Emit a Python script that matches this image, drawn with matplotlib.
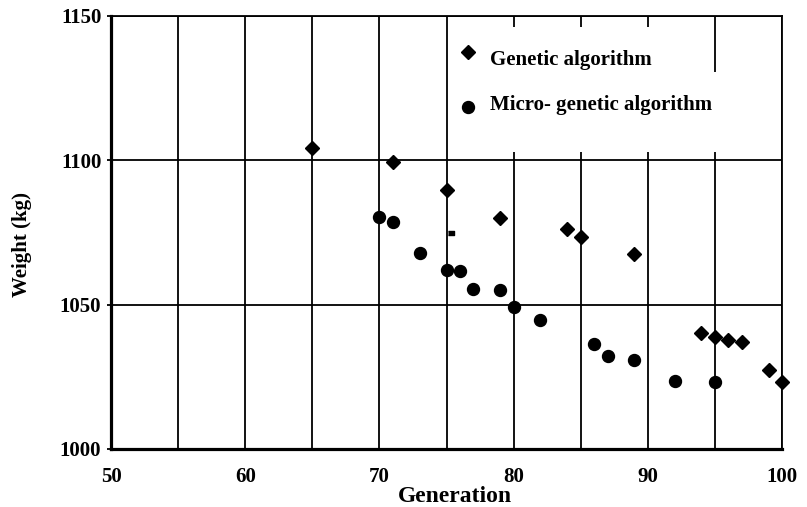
import matplotlib
matplotlib.use("Agg")
import matplotlib.pyplot as plt
from matplotlib.patches import Rectangle

# Genetic algorithm (diamonds)
ga_gen = [65, 71, 75, 79, 84, 85, 89, 94, 95, 96, 97, 99, 100]
ga_weight = [1104.3, 1099.4, 1089.7, 1080.0, 1076.2, 1073.4, 1067.6, 1040.2, 1038.8, 1037.8, 1037.0, 1027.4, 1023.2]

# small stray mark
odd_gen = [75.3]
odd_weight = [1074.8]

# Micro-genetic algorithm (circles)
mga_gen = [70, 71, 73, 75, 76, 77, 79, 80, 82, 86, 87, 89, 92, 95]
mga_weight = [1080.4, 1078.6, 1067.9, 1062.0, 1061.7, 1055.4, 1055.0, 1049.2, 1044.7, 1036.4, 1032.2, 1030.8, 1023.6, 1023.2]

x_ticks = [50, 60, 70, 80, 90, 100]
x_grid = [55, 60, 65, 70, 75, 80, 85, 90, 95, 100]
y_ticks = [1000, 1050, 1100, 1150]

labels = ["Genetic algorithm", "Micro- genetic algorithm"]

plt.rcParams['font.family'] = ['Liberation Serif', 'DejaVu Serif']
plt.rcParams['font.weight'] = 'bold'

fig = plt.figure(figsize=(8.07, 5.07), dpi=100)
ax = fig.add_axes([111/807, 1-449/507, 671/807, 433/507])
ax.set_xlim(50, 100)
ax.set_ylim(1000, 1150)

for g in x_grid:
    ax.axvline(g, color='black', lw=1.3, zorder=1)
for w in y_ticks[1:]:
    ax.axhline(w, color='black', lw=1.3, zorder=1)

ax.set_xticks(x_ticks)
ax.set_yticks(y_ticks)
ax.tick_params(axis='x', length=0, pad=13, labelsize=15)
ax.tick_params(axis='y', length=3, width=1.3, pad=4, labelsize=15)
for lab in ax.get_xticklabels() + ax.get_yticklabels():
    lab.set_fontweight('bold')

for s in ['left', 'bottom']:
    ax.spines[s].set_linewidth(2.3)
for s in ['top', 'right']:
    ax.spines[s].set_linewidth(1.3)
for s in ax.spines.values():
    s.set_zorder(5)

ax.plot(ga_gen, ga_weight, linestyle='none', marker='D', ms=6.8, color='black', zorder=6, clip_on=False)
ax.plot(mga_gen, mga_weight, linestyle='none', marker='o', ms=8.6, color='black', zorder=6, clip_on=False)
ax.plot(odd_gen, odd_weight, linestyle='none',
        marker=[(-1, -0.45), (1, -0.45), (1, 0.45), (-1, 0.45)], ms=5, color='black', zorder=6)

# legend (manual)
ax.add_patch(Rectangle((0.508, 0.686), 0.8957-0.508, 0.9746-0.686, transform=ax.transAxes,
                       facecolor='white', edgecolor='none', zorder=3))
ax.add_patch(Rectangle((0.8957, 0.686), 0.9106-0.8957, 0.8707-0.686, transform=ax.transAxes,
                       facecolor='white', edgecolor='none', zorder=3))
ax.plot([0.532], [0.9169], transform=ax.transAxes, linestyle='none', marker='D', ms=6.8, color='black', zorder=6)
ax.plot([0.532], [0.7898], transform=ax.transAxes, linestyle='none', marker='o', ms=8.6, color='black', zorder=6)
ax.text(0.5648, 0.8868, labels[0], transform=ax.transAxes, fontsize=15, fontweight='bold',
        va='baseline', ha='left', zorder=7)
ax.text(0.5648, 0.7829, labels[1], transform=ax.transAxes, fontsize=15, fontweight='bold',
        va='baseline', ha='left', zorder=7)

ax.set_xlabel("Generation", fontsize=17, fontweight='bold')
ax.xaxis.set_label_coords((455-111)/671, (449-497)/433)
ax.xaxis.label.set_va('center')
ax.set_ylabel("Weight (kg)", fontsize=15, fontweight='bold')
ax.yaxis.set_label_coords((22-111)/671, (449-245)/433)
ax.yaxis.label.set_va('center')

fig.savefig("out.png", dpi=100)
